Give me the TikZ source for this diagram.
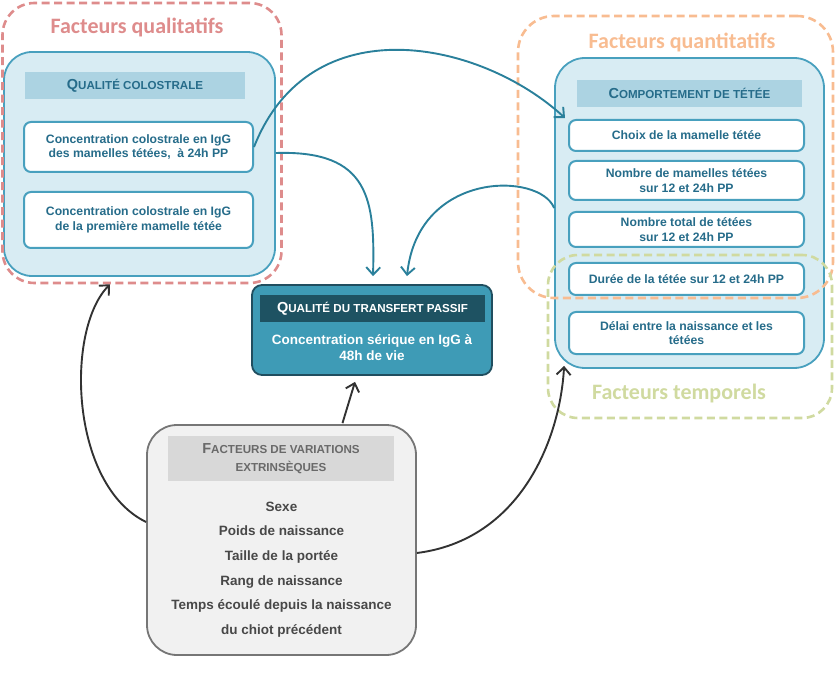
\documentclass[tikz,border=0pt]{standalone}
\usepackage{fontspec}
\setmainfont{Liberation Sans}
\newfontfamily\calfont{Carlito}
\usetikzlibrary{arrows.meta,calc}
\definecolor{tealB}{RGB}{72,160,190}
\definecolor{lightB}{RGB}{216,236,243}
\definecolor{hdrB}{RGB}{172,211,226}
\definecolor{tealT}{RGB}{38,108,138}
\definecolor{tealA}{RGB}{42,128,155}
\definecolor{darkFill}{RGB}{62,155,182}
\definecolor{darkLine}{RGB}{32,78,95}
\definecolor{darkHdr}{RGB}{30,82,98}
\definecolor{redD}{RGB}{222,140,140}
\definecolor{orangeD}{RGB}{248,188,145}
\definecolor{greenD}{RGB}{208,218,160}
\definecolor{grayFill}{RGB}{241,241,241}
\definecolor{grayLine}{RGB}{118,118,118}
\definecolor{grayHdr}{RGB}{216,216,216}
\definecolor{grayHT}{RGB}{105,105,105}
\definecolor{grayT}{RGB}{72,72,72}
\definecolor{arrowD}{RGB}{50,50,50}
\newcommand\fsc[2]{{\fontsize{14.5}{18}\selectfont #1}{\fontsize{11.6}{18}\selectfont #2}}
\begin{document}
\begin{tikzpicture}[x=1pt,y=-1pt,
  cont/.style={draw=tealB, fill=lightB, line width=1.8pt, rounded corners=28pt, inner sep=0pt},
  hdr/.style={fill=hdrB, text=tealT, font=\bfseries, inner sep=0pt, align=center},
  inbox/.style={draw=tealB, fill=white, line width=2pt, rounded corners=7pt, inner sep=0pt,
    text=tealT, font=\bfseries\fontsize{12.2}{14.5}\selectfont, align=center},
  dashbox/.style={line width=2.6pt, dash pattern=on 8pt off 4.5pt, inner sep=0pt},
  ttl/.style={font=\calfont\bfseries\fontsize{22}{24}\selectfont, inner sep=0pt},
  tarrow/.style={draw=tealA, line width=1.9pt, -{Straight Barb[length=7.5pt,width=14pt,line width=1.9pt]}},
  darrow/.style={draw=arrowD, line width=1.9pt, -{Straight Barb[length=7.5pt,width=14pt,line width=1.9pt]}}
]
\useasboundingbox (0,0) rectangle (836,687);

% containers
\node[cont, minimum width=271pt, minimum height=224pt] (leftcont) at (139.5,164) {};
\node[cont, minimum width=269pt, minimum height=310pt, rounded corners=30pt] (rightcont) at (689.5,213) {};

% dashed group boxes
\node[dashbox, draw=redD, rounded corners=32pt, minimum width=279pt, minimum height=280pt] (redbox) at (142,143) {};
\node[dashbox, draw=orangeD, rounded corners=36pt, minimum width=315pt, minimum height=282pt] (orangebox) at (675.5,157) {};
\node[dashbox, draw=greenD, rounded corners=30pt, minimum width=284pt, minimum height=163pt] (greenbox) at (690,336.5) {};

\node[ttl, text=redD] (t1) at (137,27) {Facteurs qualitatifs};
\node[ttl, text=orangeD] (t2) at (682,42) {Facteurs quantitatifs};
\node[ttl, text=greenD] (t3) at (679,394) {Facteurs temporels};

% left content
\node[hdr, minimum width=220pt, minimum height=27pt] (hl) at (135,85.5) {\fsc{Q}{UALITÉ COLOSTRALE}};
\node[inbox, minimum width=229pt, minimum height=50pt] (box1) at (138.5,147) {Concentration colostrale en IgG\\des mamelles tétées,~ à 24h PP};
\node[inbox, minimum width=229pt, minimum height=56pt] (box2) at (138.5,220) {Concentration colostrale en IgG\\de la première mamelle tétée};

% right content
\node[hdr, minimum width=225pt, minimum height=27pt] (hr) at (689.5,93.5) {\fsc{C}{OMPORTEMENT DE TÉTÉE}};
\node[inbox, minimum width=235pt, minimum height=31pt] (choix) at (686.5,135.5) {Choix de la mamelle tétée};
\node[inbox, minimum width=235pt, minimum height=39pt] (nbmam) at (686.5,180.5) {Nombre de mamelles tétées\\sur 12 et 24h PP};
\node[inbox, minimum width=235pt, minimum height=35pt] (nbtot) at (686.5,229.5) {Nombre total de tétées\\sur 12 et 24h PP};
\node[inbox, minimum width=235pt, minimum height=32pt] (duree) at (686.5,279) {Durée de la tétée sur 12 et 24h PP};
\node[inbox, minimum width=235pt, minimum height=42pt] (delai) at (686.5,333) {Délai entre la naissance et les\\tétées};

% central box
\node[draw=darkLine, fill=darkFill, line width=1.8pt, rounded corners=10pt, minimum width=240pt, minimum height=90pt, inner sep=0pt] (dark) at (372,330) {};
\node[fill=darkHdr, text=white, font=\bfseries, inner sep=0pt, minimum width=225pt, minimum height=27pt] (dhdr) at (372.5,308.5) {\fsc{Q}{UALITÉ DU TRANSFERT PASSIF}};
\node[text=white, font=\bfseries\fontsize{13.5}{15.5}\selectfont, align=center, inner sep=0pt] (dtext) at (372,347.5) {Concentration sérique en IgG à\\48h de vie};

% gray box
\node[draw=grayLine, fill=grayFill, line width=1.8pt, rounded corners=30pt, minimum width=269pt, minimum height=230pt, inner sep=0pt] (gray) at (281.5,540) {};
\node[fill=grayHdr, text=grayHT, font=\bfseries\fontsize{11.6}{18}\selectfont, inner sep=0pt, minimum width=226pt, minimum height=45pt, align=center] (ghdr) at (281,458.5) {\fsc{F}{ACTEURS DE VARIATIONS}\\EXTRINSÈQUES};
\node[text=grayT, font=\bfseries\fontsize{13.5}{24.6}\selectfont, align=center, inner sep=0pt] (gtext) at (281.5,569.5) {Sexe\\Poids de naissance\\Taille de la portée\\Rang de naissance\\Temps écoulé depuis la naissance\\du chiot précédent};

% arrows
\draw[tarrow] (box1.east) .. controls (310,5) and (480,40) .. ($(choix.north west)+(-3,-1)$);
\draw[tarrow] ($(leftcont.east)+(0,-11)$) .. controls (370,150) and (375,200) .. ($(dark.north)+(1,-8)$);
\draw[tarrow] ($(rightcont.west)+(0,-5)$) .. controls (540,172) and (418,170) .. ($(dark.north)+(35,-8)$);
\draw[darrow] ($(gray.north)+(61,-1)$) -- ($(dark.south)+(-17,6)$);
\draw[darrow] ($(gray.west)+(0,-18)$) .. controls (70,485) and (65,330) .. ($(redbox.south)+(-32,0)$);
\draw[darrow] ($(gray.east)+(0,13)$) .. controls (520,540) and (560,440) .. ($(rightcont.south west)+(10,-3)$);
\end{tikzpicture}
\end{document}
